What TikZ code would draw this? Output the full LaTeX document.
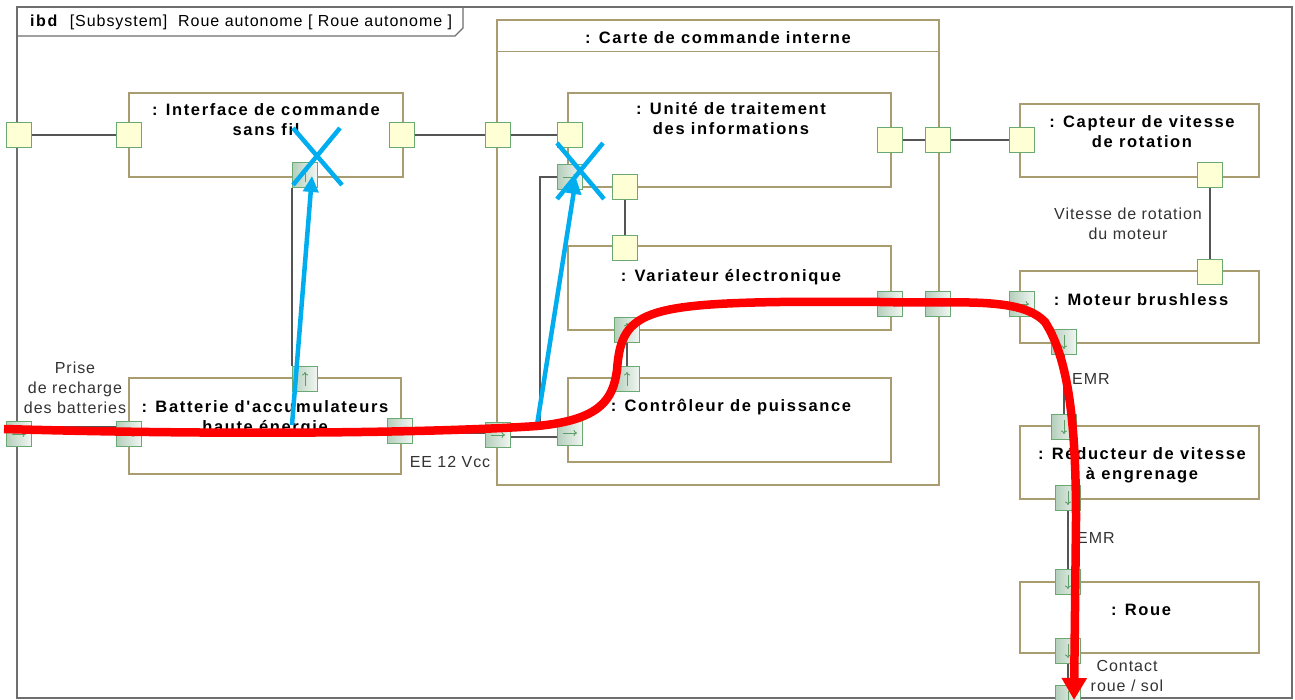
\documentclass[tikz,border=0pt]{standalone}
\usepackage{fontspec}
\setmainfont{Liberation Sans}[Ligatures=TeXOff, LetterSpace=6, BoldFeatures={LetterSpace=10}]
\usetikzlibrary{arrows.meta,calc}
\definecolor{blkc}{HTML}{A89C70}
\definecolor{portc}{HTML}{6AAA72}
\definecolor{portf}{HTML}{FFFFD6}
\definecolor{flowl}{HTML}{B4CFBC}
\definecolor{flowr}{HTML}{F2F6F2}
\definecolor{connc}{HTML}{555555}
\definecolor{framec}{HTML}{6E6E6E}
\definecolor{annblue}{HTML}{00AEEF}
\definecolor{arrg}{HTML}{5E9E66}
\definecolor{lblc}{HTML}{333333}
\tikzset{
  blk/.style={draw=blkc, line width=1.4pt, fill=white, inner sep=0pt},
  port/.style={draw=portc, line width=1.1pt, minimum size=25pt, inner sep=0pt},
  sport/.style={port, fill=portf},
  fport/.style={port, left color=flowl, right color=flowr},
  fR/.style={fport, path picture={\draw[arrg,line width=0.9pt,-{To[length=3.5pt,width=6pt]}] ($(path picture bounding box.center)+(-7pt,0pt)$) -- ++(14pt,0pt);}},
  fU/.style={fport, path picture={\draw[arrg,line width=0.9pt,-{To[length=3.5pt,width=6pt]}] ($(path picture bounding box.center)+(0pt,-7pt)$) -- ++(0pt,14pt);}},
  fD/.style={fport, path picture={\draw[arrg,line width=0.9pt,-{To[length=3.5pt,width=6pt]}] ($(path picture bounding box.center)+(0pt,7pt)$) -- ++(0pt,-14pt);}},
  conn/.style={draw=connc, line width=1.1pt},
  ttl/.style={font=\fontsize{16.5}{20}\selectfont\bfseries, align=center, inner sep=0pt, text=black},
  lbl/.style={font=\fontsize{16}{20}\selectfont, align=center, inner sep=0pt, text=lblc},
  blueann/.style={draw=annblue, line width=4.5pt},
  redann/.style={draw=red, line width=8.5pt},
}
\begin{document}
\begin{tikzpicture}[x=1pt,y=-1pt]
\useasboundingbox[fill=white] (0,0) rectangle (1295,700);
% frame
\draw[framec, line width=1.3pt] (17,7) rectangle (1292,698);
\draw[framec, line width=1.3pt] (17,36) -- (455,36) -- (463,28) -- (463,7);
\node[lbl, text=black, anchor=west, font=\fontsize{16}{20}\selectfont] (ftitle) at (30,22) {\textbf{ibd}~~[Subsystem]~~Roue autonome [ Roue autonome ]};
% blocks
\node[blk, minimum width=442pt, minimum height=465pt] (crt) at (718,252.5) {};
\draw[blkc, line width=1.4pt] ($(crt.north west)+(0,32)$) -- ($(crt.north east)+(0,32)$);
\node[blk, minimum width=274pt, minimum height=84pt] (ib) at (266,135) {};
\node[blk, minimum width=323pt, minimum height=94pt] (ut) at (729.5,140) {};
\node[blk, minimum width=323pt, minimum height=84pt] (ve) at (729.5,288) {};
\node[blk, minimum width=323pt, minimum height=84pt] (cp) at (729.5,420) {};
\node[blk, minimum width=272pt, minimum height=96pt] (ba) at (265,426) {};
\node[blk, minimum width=239pt, minimum height=73pt] (ca) at (1139.5,140.5) {};
\node[blk, minimum width=239pt, minimum height=72pt] (mo) at (1139.5,307) {};
\node[blk, minimum width=239pt, minimum height=73pt] (re) at (1139.5,462.5) {};
\node[blk, minimum width=239pt, minimum height=71pt] (ro) at (1139.5,617.5) {};
% titles
\node[ttl] (tcrt) at (718,38) {: Carte de commande interne};
\node[ttl] (tib) at (266,120) {: Interface de commande\\sans fil};
\node[ttl] (tut) at (731,119) {: Unité de traitement\\des informations};
\node[ttl] (tve) at (731,277) {: Variateur électronique};
\node[ttl] (tcp) at (731,407) {: Contrôleur de puissance};
\node[ttl] (tba) at (265,418) {: Batterie d'accumulateurs\\haute énergie};
\node[ttl] (tca) at (1142,132) {: Capteur de vitesse\\de rotation};
\node[ttl] (tmo) at (1141,300) {: Moteur brushless};
\node[ttl] (tre) at (1142,465) {: Réducteur de vitesse\\à engrenage};
\node[ttl] (tro) at (1141,610) {: Roue};
% ports
\node[sport] (pf1) at (19,135) {};
\node[sport] (pib1) at (129,135) {};
\node[sport] (pib2) at (402,135) {};
\node[sport] (pc1) at (498,135) {};
\node[sport] (pu1) at (570,135) {};
\node[sport] (pu2) at (890,140) {};
\node[sport] (pc2) at (938,140) {};
\node[sport] (pca1) at (1022,140) {};
\node[sport] (pca2) at (1210,175) {};
\node[sport] (pmo1) at (1210,272) {};
\node[sport] (pu3) at (625,187) {};
\node[sport] (pve1) at (625,248) {};
\node[fR] (pf2) at (19,434) {};
\node[fR] (pba1) at (129,434) {};
\node[fR] (pba2) at (400,431) {};
\node[fU] (pba3) at (305,379) {};
\node[fU] (pib3) at (305,175) {};
\node[fR] (pc3) at (498,435) {};
\node[fR] (pcp1) at (570,433) {};
\node[fR] (pu4) at (570,177) {};
\node[fU] (pcp2) at (627,379) {};
\node[fU] (pve2) at (627,330) {};
\node[fR] (pve3) at (890,304) {};
\node[fR] (pc4) at (938,304) {};
\node[fR] (pmo2) at (1022,304) {};
\node[fD] (pmo3) at (1064,342) {};
\node[fD] (pre1) at (1064,427) {};
\node[fD] (pre2) at (1068,498) {};
\node[fD] (pro1) at (1068,582) {};
\node[fD] (pro2) at (1068,651) {};
\node[fD] (pf3) at (1068,698) {};
% connectors
\draw[conn] (pf1.east) -- (pib1.west);
\draw[conn] (pib2.east) -- (pc1.west);
\draw[conn] (pc1.east) -- (pu1.west);
\draw[conn] (pu2.east) -- (pc2.west);
\draw[conn] (pc2.east) -- (pca1.west);
\draw[conn] (pu3.south) -- (pve1.north);
\draw[conn] (pca2.south) -- (pmo1.north);
\draw[conn] (pf2.east |- 0,427) -- (pba1.west |- 0,427);
\draw[conn] (pba3.north west) -- (pib3.south west);
\draw[conn] (pba2.east |- 0,433) -- (pc3.west |- 0,433);
\coordinate (k1) at (540,424);
\draw[conn] (pc3.east |- k1) -- (k1) |- (pu4.west);
\draw[conn] (pc3.east |- 0,437) -- (pcp1.west |- 0,437);
\draw[conn] (pcp2.north) -- (pve2.south);
\draw[conn] (pve3.east) -- (pc4.west);
\draw[conn] (pc4.east) -- (pmo2.west);
\draw[conn] (pmo3.south) -- (pre1.north);
\draw[conn] (pre2.south) -- (pro1.north);
\draw[conn] (pro2.south) -- (pf3.north);
% labels
\node[lbl] (lprise) at (75,388) {Prise\\de recharge\\des batteries};
\node[lbl] (lee) at (450,462) {EE 12 Vcc};
\node[lbl] (lvit) at (1128,224) {Vitesse de rotation\\du moteur};
\node[lbl, anchor=west] (lemr1) at (1072,379) {EMR};
\node[lbl, anchor=west] (lemr2) at (1077,538) {EMR};
\node[lbl] (lcont) at (1127,676) {Contact\\roue / sol};
% blue annotations
\coordinate (b1s) at (292,425); \coordinate (b1e) at (312,176);
\coordinate (b2s) at (537,425); \coordinate (b2e) at (576,178);
\draw[blueann, -{Triangle[length=16pt,width=15pt]}] (b1s) -- (b1e);
\draw[blueann, -{Triangle[length=16pt,width=15pt]}] (b2s) -- (b2e);
\draw[blueann] (293,128) -- (342,185) (340,128) -- (293,185);
\draw[blueann] (557,143) -- (604,199) (603,143) -- (557,199);
% red annotation
\coordinate (r0) at (4,429);
\coordinate (r1) at (537,426);
\coordinate (r2) at (617,370);
\coordinate (r3) at (780,302);
\coordinate (r4) at (880,302);
\coordinate (r5) at (1045,322);
\coordinate (r6) at (1076,520);
\coordinate (r7) at (1074,700);
\draw[redann, -{Triangle[length=22pt,width=24pt]}]
  (r0) .. controls (250,436) and (450,432) .. (r1)
       .. controls (600,420) and (613,400) .. (r2)
       .. controls (621,315) and (640,304) .. (r3)
       -- (r4)
       .. controls (960,304) and (1020,296) .. (r5)
       .. controls (1068,358) and (1076,420) .. (r6)
       -- (r7);
\end{tikzpicture}
\end{document}
